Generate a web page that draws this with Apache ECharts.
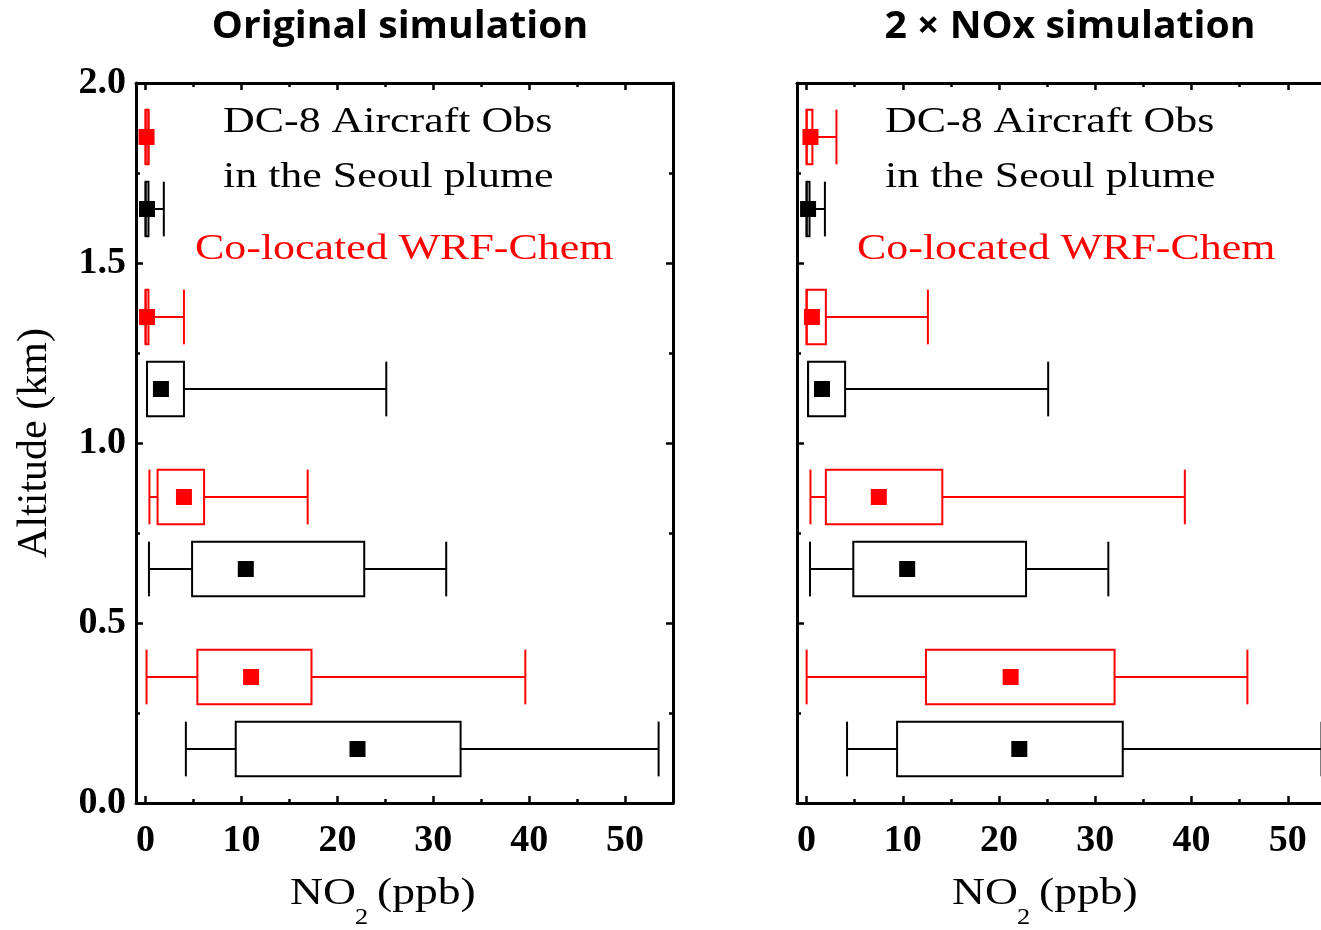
<!DOCTYPE html>
<html>
<head>
<meta charset="utf-8">
<script src="https://cdn.jsdelivr.net/npm/echarts@6.0.0/dist/echarts.min.js"></script>
<style>
  html, body { margin: 0; padding: 0; background: #fff; }
  #chart { width: 1321px; height: 930px; }
</style>
</head>
<body>
<div id="chart"></div>
<script>
// tick labels
const xTicks = [0, 10, 20, 30, 40, 50];
const xMinorTicks = [5, 15, 25, 35, 45, 55];
const yTicks = [0, 0.5, 1.0, 1.5, 2.0];

// DC-8 aircraft obs (black), same in both panels
const obsAlt = [0.15, 0.65, 1.15, 1.65];
const obsMin = [4.2, 0.35, 0.15, 0.0];
const obsQ1 = [9.4, 4.85, 0.15, 0.0];
const obsQ3 = [32.85, 22.8, 4.0, 0.3];
const obsMax = [53.5, 31.35, 25.1, 1.9];
const obsMean = [22.1, 10.45, 1.6, 0.15];

// co-located WRF-Chem (red)
const modAlt = [0.35, 0.85, 1.35, 1.85];
const origMin = [0.1, 0.4, 0.0, 0.0];
const origQ1 = [5.4, 1.25, 0.0, 0.0];
const origQ3 = [17.3, 6.1, 0.3, 0.3];
const origMax = [39.6, 16.9, 4.0, 0.3];
const origMean = [11.0, 4.0, 0.15, 0.1];

const dblMin = [0.0, 0.4, 0.0, 0.0];
const dblQ1 = [12.4, 2.0, 0.0, 0.0];
const dblQ3 = [32.0, 14.1, 2.0, 0.6];
const dblMax = [45.8, 39.3, 12.6, 3.1];
const dblMean = [21.2, 7.5, 0.55, 0.4];

function rows(alt, lo, q1, q3, hi, mean) {
  return alt.map((a, i) => [a, lo[i], q1[i], q3[i], hi[i], mean[i]]);
}

const BOX_HALF = 0.076; // km
const SERIF = "'Liberation Serif', 'Times New Roman', serif";

function renderBox(params, api) {
  const alt = api.value(0);
  const color = api.visual('color');
  const pLo = api.coord([api.value(1), alt]);
  const pQ1 = api.coord([api.value(2), alt]);
  const pQ3 = api.coord([api.value(3), alt]);
  const pHi = api.coord([api.value(4), alt]);
  const pM = api.coord([api.value(5), alt]);
  const h = api.size([0, BOX_HALF])[1];
  const y = pLo[1];
  const st = { stroke: color, lineWidth: 2, fill: 'none' };
  return {
    type: 'group',
    children: [
      { type: 'line', shape: { x1: pLo[0], y1: y, x2: pQ1[0], y2: y }, style: st },
      { type: 'line', shape: { x1: pQ3[0], y1: y, x2: pHi[0], y2: y }, style: st },
      { type: 'line', shape: { x1: pLo[0], y1: y - h, x2: pLo[0], y2: y + h }, style: st },
      { type: 'line', shape: { x1: pHi[0], y1: y - h, x2: pHi[0], y2: y + h }, style: st },
      { type: 'rect', shape: { x: pQ1[0], y: y - h, width: pQ3[0] - pQ1[0], height: 2 * h }, style: st },
      { type: 'rect', shape: { x: pM[0] - 8, y: y - 8, width: 16, height: 16 }, style: { fill: color } }
    ]
  };
}

// right panel is cropped at the page edge
const gridL = { left: 136, top: 83, width: 537, height: 720 };
const gridR = { left: 797, top: 83, width: 524, height: 720 };
const xMaxL = 55;
const xMaxR = 53.45;

function xMajor(grid, pos, labels, max) {
  return {
    gridIndex: grid, type: 'value', position: pos, min: -1, max: max,
    axisLine: { show: true, onZero: false, lineStyle: { color: '#000', width: 3 } },
    axisTick: { show: true, inside: true, length: 7, customValues: xTicks, lineStyle: { color: '#000', width: 2.5 } },
    axisLabel: {
      show: labels, customValues: xTicks, margin: 19,
      fontFamily: SERIF, fontWeight: 'bold', fontSize: 38, color: '#000',
      formatter: v => String(v)
    },
    splitLine: { show: false }
  };
}
function xMinor(grid, pos, max) {
  return {
    gridIndex: grid, type: 'value', position: pos, min: -1, max: max,
    axisLine: { show: false, onZero: false },
    axisTick: { show: true, inside: true, length: 4, customValues: xMinorTicks, lineStyle: { color: '#000', width: 2.5 } },
    axisLabel: { show: false },
    splitLine: { show: false }
  };
}
function yAxisOf(grid, pos, labels, name, hidden) {
  return {
    gridIndex: grid, type: 'value', position: pos, min: 0, max: 2, interval: 0.5,
    name: name || '', nameLocation: 'middle', nameGap: 80, nameRotate: 90,
    nameTextStyle: { fontFamily: SERIF, fontSize: 42, color: '#000' },
    axisLine: { show: !hidden, onZero: false, lineStyle: { color: '#000', width: 3 } },
    axisTick: { show: !hidden, inside: true, length: 7, lineStyle: { color: '#000', width: 2.5 } },
    minorTick: { show: !hidden, splitNumber: 2, length: 4, lineStyle: { color: '#000', width: 2.5 } },
    axisLabel: {
      show: labels, customValues: yTicks, margin: 10,
      fontFamily: SERIF, fontWeight: 'bold', fontSize: 38, color: '#000',
      formatter: v => v.toFixed(1)
    },
    splitLine: { show: false }
  };
}
function yHidden(grid) {
  return { gridIndex: grid, type: 'value', min: 0, max: 2, show: false };
}

function text(x, y, str, scaleX, font, fill) {
  return {
    type: 'text', x: x, y: y, scaleX: scaleX,
    style: { text: str, font: font, fill: fill || '#000', textVerticalAlign: 'middle' }
  };
}

const legendTexts = [];
[0, 662].forEach(dx => {
  legendTexts.push(text(223 + dx, 123, 'DC-8 Aircraft Obs', 1.22, '36px ' + SERIF));
  legendTexts.push(text(223 + dx, 178, 'in the Seoul plume', 1.22, '36px ' + SERIF));
  legendTexts.push(text(195 + dx, 250, 'Co-located WRF-Chem', 1.22, '36px ' + SERIF, '#ff0000'));
  legendTexts.push(text(290 + dx, 894, 'NO', 1.2, '38px ' + SERIF));
  legendTexts.push(text(355 + dx, 918, '2', 1.1, '24px ' + SERIF));
  legendTexts.push(text(377 + dx, 894, '(ppb)', 1.2, '38px ' + SERIF));
});

const titleFont = "bold 38px 'Open Sans', 'Noto Sans', sans-serif";
const titles = [
  { type: 'text', x: 400, y: 27, scaleX: 1.03, style: { text: 'Original simulation', font: titleFont, fill: '#000', textAlign: 'center', textVerticalAlign: 'middle' } },
  { type: 'text', x: 1070, y: 27, scaleX: 1.03, style: { text: '2 × NOx simulation', font: titleFont, fill: '#000', textAlign: 'center', textVerticalAlign: 'middle' } }
];

const chart = echarts.init(document.getElementById('chart'), null, { renderer: 'canvas' });
chart.setOption({
  backgroundColor: '#fff',
  animation: false,
  grid: [gridL, gridR, gridL, gridR],
  xAxis: [
    xMajor(0, 'bottom', true, xMaxL), xMajor(0, 'top', false, xMaxL),
    xMajor(1, 'bottom', true, xMaxR), xMajor(1, 'top', false, xMaxR),
    xMinor(2, 'bottom', xMaxL), xMinor(2, 'top', xMaxL),
    xMinor(3, 'bottom', xMaxR), xMinor(3, 'top', xMaxR)
  ],
  yAxis: [
    yAxisOf(0, 'left', true, 'Altitude (km)'), yAxisOf(0, 'right', false),
    yAxisOf(1, 'left', false), yAxisOf(1, 'right', false, '', true),
    yHidden(2), yHidden(3)
  ],
  graphic: titles.concat(legendTexts),
  series: [
    { name: 'Obs', type: 'custom', xAxisIndex: 0, yAxisIndex: 0, renderItem: renderBox,
      itemStyle: { color: '#000' }, encode: { x: [1, 2, 3, 4, 5], y: 0 },
      data: rows(obsAlt, obsMin, obsQ1, obsQ3, obsMax, obsMean) },
    { name: 'WRF-Chem', type: 'custom', xAxisIndex: 0, yAxisIndex: 0, renderItem: renderBox,
      itemStyle: { color: '#ff0000' }, encode: { x: [1, 2, 3, 4, 5], y: 0 },
      data: rows(modAlt, origMin, origQ1, origQ3, origMax, origMean) },
    { name: 'Obs 2x', type: 'custom', xAxisIndex: 2, yAxisIndex: 2, renderItem: renderBox,
      itemStyle: { color: '#000' }, encode: { x: [1, 2, 3, 4, 5], y: 0 },
      data: rows(obsAlt, obsMin, obsQ1, obsQ3, obsMax, obsMean) },
    { name: 'WRF-Chem 2x', type: 'custom', xAxisIndex: 2, yAxisIndex: 2, renderItem: renderBox,
      itemStyle: { color: '#ff0000' }, encode: { x: [1, 2, 3, 4, 5], y: 0 },
      data: rows(modAlt, dblMin, dblQ1, dblQ3, dblMax, dblMean) }
  ]
});
</script>
</body>
</html>
